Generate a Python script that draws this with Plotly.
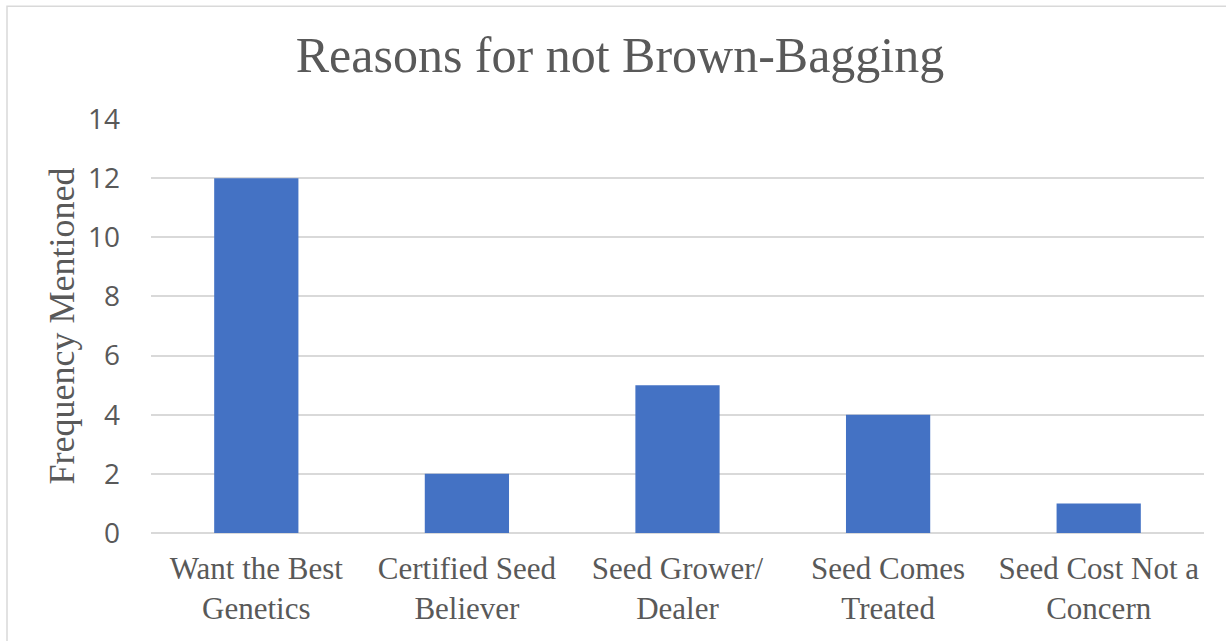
import plotly.graph_objects as go

# Survey tallies: reasons growers gave for not saving their own seed
categories = [
    "Want the Best<br>Genetics",
    "Certified Seed<br>Believer",
    "Seed Grower/<br>Dealer",
    "Seed Comes<br>Treated",
    "Seed Cost Not a<br>Concern",
]
frequency = [12, 2, 5, 4, 1]
y_ticks = [0, 2, 4, 6, 8, 10, 12, 14]

TEXT = "#595959"
GRID = "#D9D9D9"
BAR = "#4472C4"
SERIF = "Liberation Serif, Times New Roman, serif"
SANS = "Open Sans, Noto Sans, sans-serif"

W, H = 1226, 641
L, R, T, B = 151, 22, 118.5, 107.5
plot_w = W - L - R
plot_h = H - T - B

fig = go.Figure(
    go.Bar(
        x=categories,
        y=frequency,
        marker=dict(color=BAR, line=dict(width=0)),
        width=0.4,
        hoverinfo="x+y",
    )
)

# outer chart frame (left and top edges fall inside the page)
fig.add_shape(
    type="rect",
    xref="paper", yref="paper",
    x0=(7 - L) / plot_w, x1=(W + 5 - L) / plot_w,
    y0=(H - B - (H + 5)) / plot_h, y1=(H - B - 5.5) / plot_h,
    line=dict(color=GRID, width=1.5),
    fillcolor="rgba(0,0,0,0)",
    layer="below",
)

fig.update_layout(
    width=W,
    height=H,
    autosize=False,
    margin=dict(l=L, r=R, t=T, b=B, pad=0),
    paper_bgcolor="white",
    plot_bgcolor="white",
    showlegend=False,
    title=dict(
        text="Reasons for not Brown-Bagging",
        font=dict(family=SERIF, size=50, color=TEXT),
        xref="container", x=620 / W, xanchor="center",
        yref="container", y=1 - 54 / H, yanchor="middle",
    ),
    xaxis=dict(
        showgrid=False,
        showline=False,
        zeroline=False,
        ticks="",
        tickfont=dict(family=SERIF, size=31, color=TEXT),
        ticklabelstandoff=14,
    ),
    yaxis=dict(
        range=[0, 14],
        tickvals=y_ticks,
        showgrid=True,
        gridcolor=GRID,
        gridwidth=1.5,
        zeroline=True,
        zerolinecolor=GRID,
        zerolinewidth=1.5,
        showline=False,
        ticks="",
        tickfont=dict(family=SANS, size=28, color=TEXT),
        ticklabelstandoff=30,
        title=dict(
            text="Frequency Mentioned",
            font=dict(family=SERIF, size=36, color=TEXT),
            standoff=2,
        ),
    ),
)

fig.write_html("out.html")
